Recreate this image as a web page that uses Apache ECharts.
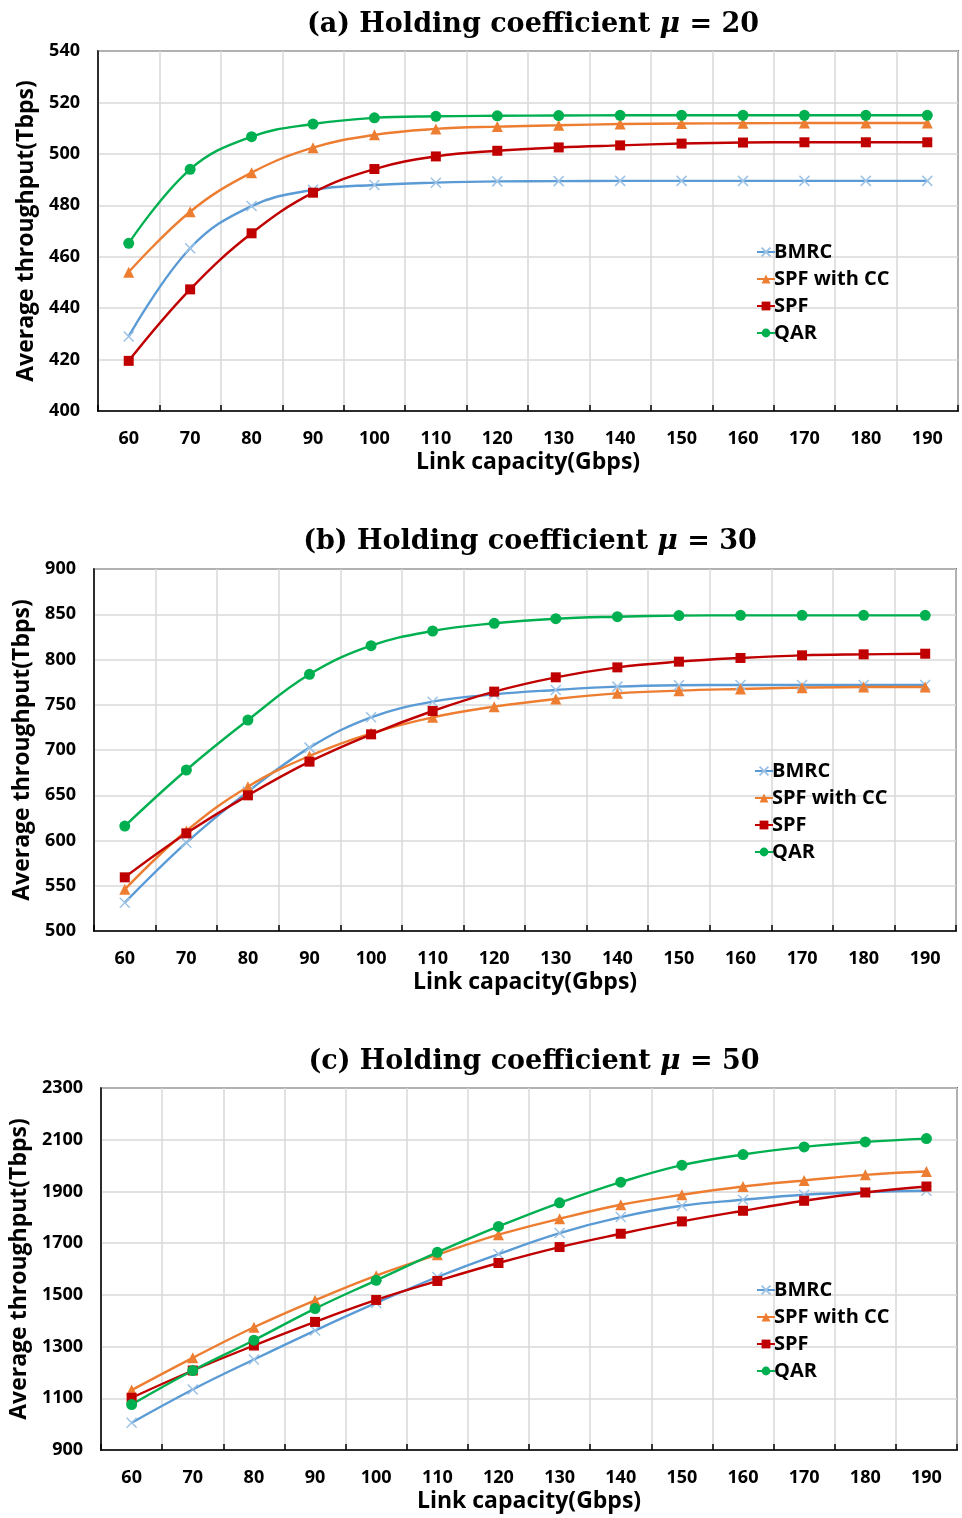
<!DOCTYPE html>
<html>
<head>
<meta charset="utf-8">
<script src="https://cdn.jsdelivr.net/npm/echarts@6/dist/echarts.min.js"></script>
<style>
  html, body { margin: 0; padding: 0; background: #fff; }
  #chart { width: 962px; height: 1518px; }
</style>
</head>
<body>
<div id="chart"></div>
<script>
// x categories: link capacity (Gbps)
const categories = ['60', '70', '80', '90', '100', '110', '120', '130', '140', '150', '160', '170', '180', '190'];
const seriesNames = ['BMRC', 'SPF with CC', 'SPF', 'QAR'];

// (a) mu = 20
const bmrcA  = [429, 463.3, 479.7, 486, 487.9, 488.8, 489.3, 489.4, 489.5, 489.5, 489.5, 489.5, 489.5, 489.5];
const spfccA = [454, 477.5, 492.7, 502.4, 507.4, 509.7, 510.6, 511.1, 511.6, 511.8, 511.9, 512, 512, 512];
const spfA   = [419.5, 447.3, 469.1, 484.9, 494.1, 499, 501.2, 502.5, 503.3, 504, 504.4, 504.5, 504.5, 504.5];
const qarA   = [465.2, 494, 506.7, 511.6, 514, 514.6, 514.8, 514.9, 515, 515, 515, 515, 515, 515];

// (b) mu = 30
const bmrcB  = [531.3, 597.6, 654, 702.6, 736.1, 753.4, 761.5, 766.3, 770, 771.5, 771.8, 771.8, 771.8, 771.8];
const spfccB = [546, 610.5, 659.5, 693.4, 718.4, 736.1, 747.9, 756.4, 762.6, 765.6, 767.4, 768.9, 769.6, 769.6];
const spfB   = [559.3, 607.9, 649.9, 687.1, 717.3, 743.1, 764.5, 780.3, 791.3, 797.6, 801.7, 804.6, 805.7, 806.4];
const qarB   = [616, 677.9, 733.1, 783.6, 815.3, 831.5, 840, 845.1, 847.3, 848.5, 848.8, 848.8, 848.8, 848.8];

// (c) mu = 50
const bmrcC  = [1005.5, 1134.2, 1250, 1362, 1468.8, 1569.1, 1657.9, 1739, 1800.8, 1844.5, 1867.7, 1887, 1897.3, 1902.4];
const spfccC = [1131.6, 1256.4, 1374.8, 1479, 1574.3, 1655.3, 1732.6, 1794.3, 1848.4, 1887, 1919.1, 1942.3, 1964.2, 1977];
const spfC   = [1102, 1207.5, 1304, 1395.4, 1480.3, 1553.7, 1623.2, 1684.9, 1736.4, 1784, 1825.2, 1863.8, 1896, 1919.1];
const qarC   = [1076, 1207.5, 1324.6, 1446.9, 1556.3, 1664.4, 1764.7, 1856, 1935.9, 2001.5, 2042.7, 2072.3, 2091.6, 2104.4];

const panels = [
    { tag: '(a)', mu: '20', data: [bmrcA, spfccA, spfA, qarA], min: 400, max: 540, step: 20,
      grid: { left: 98, top: 51, right: 4, height: 360 }, titleTop: 6, legendTop: 237, legendLeft: 751 },
    { tag: '(b)', mu: '30', data: [bmrcB, spfccB, spfB, qarB], min: 500, max: 900, step: 50,
      grid: { left: 94, top: 569, right: 6, height: 362 }, titleTop: 523, legendTop: 756, legendLeft: 749 },
    { tag: '(c)', mu: '50', data: [bmrcC, spfccC, spfC, qarC], min: 900, max: 2300, step: 200,
      grid: { left: 101, top: 1088, right: 5, height: 362 }, titleTop: 1043, legendTop: 1275, legendLeft: 751 }
];

const colors = ['#5b9bd5', '#ed7d31', '#c00000', '#00b050'];
const symbols = ['path://M0,0L10,10M10,0L0,10', 'triangle', 'rect', 'circle'];
const sizes = [10, 11, 10, 11];
const sansFont = 'Open Sans';

let option = {
    backgroundColor: '#fff',
    animation: false,
    title: [], legend: [], grid: [], xAxis: [], yAxis: [], series: []
};

panels.forEach((p, i) => {
    let g = p.grid;
    option.title.push({
        text: p.tag + ' Holding coefficient {mu|μ} = ' + p.mu,
        left: g.left + (962 - g.left - g.right) / 2,
        textAlign: 'center',
        top: p.titleTop,
        textStyle: {
            fontFamily: 'DejaVu Serif', fontWeight: 'bold', fontSize: 27, color: '#000',
            rich: { mu: { fontFamily: 'DejaVu Serif', fontStyle: 'italic', fontWeight: 'bold', fontSize: 28, color: '#000' } }
        }
    });
    option.grid.push({
        left: g.left, top: g.top, right: g.right, height: g.height,
        show: true, borderColor: '#000', borderWidth: 1.5
    });
    option.xAxis.push({
        type: 'category', gridIndex: i, data: categories, boundaryGap: true,
        name: 'Link capacity(Gbps)', nameLocation: 'middle', nameGap: 40,
        nameTextStyle: { fontFamily: sansFont, fontWeight: 'bold', fontSize: 23, color: '#000' },
        axisLine: { lineStyle: { color: '#000', width: 1.5 } },
        axisTick: { show: true, inside: true, length: 6, lineStyle: { color: '#000', width: 1.5 } },
        axisLabel: { fontFamily: sansFont, fontWeight: 'bold', fontSize: 18, color: '#000', margin: 19 },
        splitLine: { show: true, lineStyle: { color: '#d9d9d9', width: 1.5 } }
    });
    option.yAxis.push({
        type: 'value', gridIndex: i, min: p.min, max: p.max, interval: p.step,
        name: 'Average throughput(Tbps)', nameLocation: 'middle', nameGap: 58,
        nameTextStyle: { fontFamily: sansFont, fontWeight: 'bold', fontSize: 23, color: '#000' },
        axisLine: { show: true, lineStyle: { color: '#000', width: 1.5 } },
        axisTick: { show: false },
        axisLabel: { fontFamily: sansFont, fontWeight: 'bold', fontSize: 18, color: '#000', margin: 18,
                     formatter: (v) => String(v) },
        splitLine: { show: true, lineStyle: { color: '#d9d9d9', width: 1.5 } }
    });
    option.legend.push({
        orient: 'vertical', left: p.legendLeft, top: p.legendTop,
        itemWidth: 18, itemHeight: 11, itemGap: 7,
        textStyle: { fontFamily: sansFont, fontWeight: 'bold', fontSize: 20, color: '#000', padding: [0, 0, 0, -6] },
        data: seriesNames.map((n) => n + ' ' + p.tag)
    });
    seriesNames.forEach((name, k) => {
        let isCross = k === 0;
        option.series.push({
            name: name + ' ' + p.tag,
            type: 'line', xAxisIndex: i, yAxisIndex: i,
            data: p.data[k], smooth: 0.4,
            symbol: symbols[k], symbolSize: sizes[k], showSymbol: true,
            lineStyle: { color: colors[k], width: 2.4 },
            itemStyle: isCross
                ? { color: 'transparent', borderColor: '#9dc3e6', borderWidth: 1.5 }
                : { color: colors[k], borderWidth: 0 },
            emphasis: { disabled: true }
        });
    });
});

// legend labels without the panel tag
option.legend.forEach((l) => {
    l.formatter = (name) => name.replace(/ \([abc]\)$/, '');
});

let chart = echarts.init(document.getElementById('chart'));
chart.setOption(option);
</script>
</body>
</html>
